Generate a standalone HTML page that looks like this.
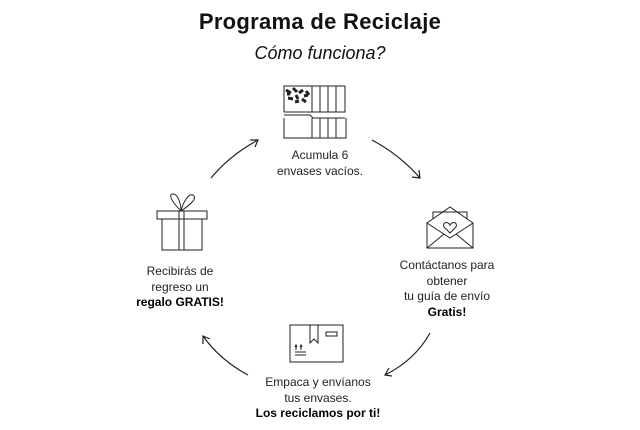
<!DOCTYPE html><html><head><style>
body{margin:0;width:640px;height:430px;background:#fff;font-family:"Liberation Sans",sans-serif;color:#111;position:relative;overflow:hidden}
.t{position:absolute;text-align:center;font-size:12px;line-height:15.5px;color:#222;white-space:nowrap}
b{color:#000}
</style></head><body>
<div style="position:absolute;left:0;width:640px;top:9px;text-align:center;font-size:22px;font-weight:bold;letter-spacing:0.3px">Programa de Reciclaje</div>
<div style="position:absolute;left:0;width:640px;top:43px;text-align:center;font-size:18px;font-style:italic">Cómo funciona?</div>
<div class="t" style="left:220px;width:200px;top:148px">Acumula 6<br>envases vacíos.</div>
<div class="t" style="left:80px;width:200px;top:264px">Recibirás de<br>regreso un<br><b>regalo GRATIS!</b></div>
<div class="t" style="left:347px;width:200px;top:258px">Contáctanos para<br>obtener<br>tu guía de envío<br><b>Gratis!</b></div>
<div class="t" style="left:218px;width:200px;top:375px">Empaca y envíanos<br>tus envases.<br><b>Los reciclamos por ti!</b></div>
<svg width="640" height="430" style="position:absolute;left:0;top:0" fill="none" stroke="#222" stroke-width="1.2">
<path d="M211 178 Q230 155 258 140"/><path d="M250 140 L258 140 L255 147"/>
<path d="M372 140 Q400 155 420 178"/><path d="M412 177 L420 178 L419 170"/>
<path d="M430 333 Q415 360 385 375"/><path d="M392 376 L385 375 L389 368"/>
<path d="M248 375 Q220 360 203 336"/><path d="M203 344 L203 336 L210 339"/>
<g stroke-width="1">
<rect x="284" y="86" width="28" height="26"/><rect x="312" y="86" width="8" height="26"/><rect x="320" y="86" width="8" height="26"/><rect x="328" y="86" width="8" height="26"/><rect x="336" y="86" width="9" height="26"/>
<path d="M284 115 H310 l3 3 H345 M284 118 V138 H346 V118"/>
<path d="M312 118 V138 M320 118 V138 M328 118 V138 M336 118 V138"/>
<path d="M286 90 l5 3 M293 88 l4 4 M299 93 l4 -3 M288 98 l5 1 M302 99 l4 3 M295 102 l4 -1 M306 91 l3 4 M296 95 l2 4 M287 94 l3 0 M304 96 l4 -1" stroke-width="3"/>
<rect x="157" y="211" width="50" height="8"/><rect x="162" y="219" width="40" height="31"/>
<path d="M179 211 V250 M184 211 V250"/>
<path d="M181 211 C170 200 168 193 174 194 C178 195 181 204 181 211 C183 203 188 193 193 195 C198 198 190 205 181 211"/>
<path d="M427 223 V248 H473 V223 L450 207 Z M427 248 L444 234 M473 248 L456 234 M427 223 L450 238 L473 223"/>
<path d="M433 219 V212 H467 V219"/>
<path d="M450 233 L444 227 C442 222 448 221 450 225 C452 221 458 222 456 227 Z"/>
<rect x="290" y="325" width="53" height="37"/>
<path d="M310 325 V343 L314 339 L318 343 V325"/><rect x="326" y="332" width="11" height="4"/>
<path d="M295 352 H306 M295 355 H306 M296 346 V350 M301 346 V350 M295 347 l1 -2 l1 2 M300 347 l1 -2 l1 2"/>
</g>
</svg>
</body></html>
